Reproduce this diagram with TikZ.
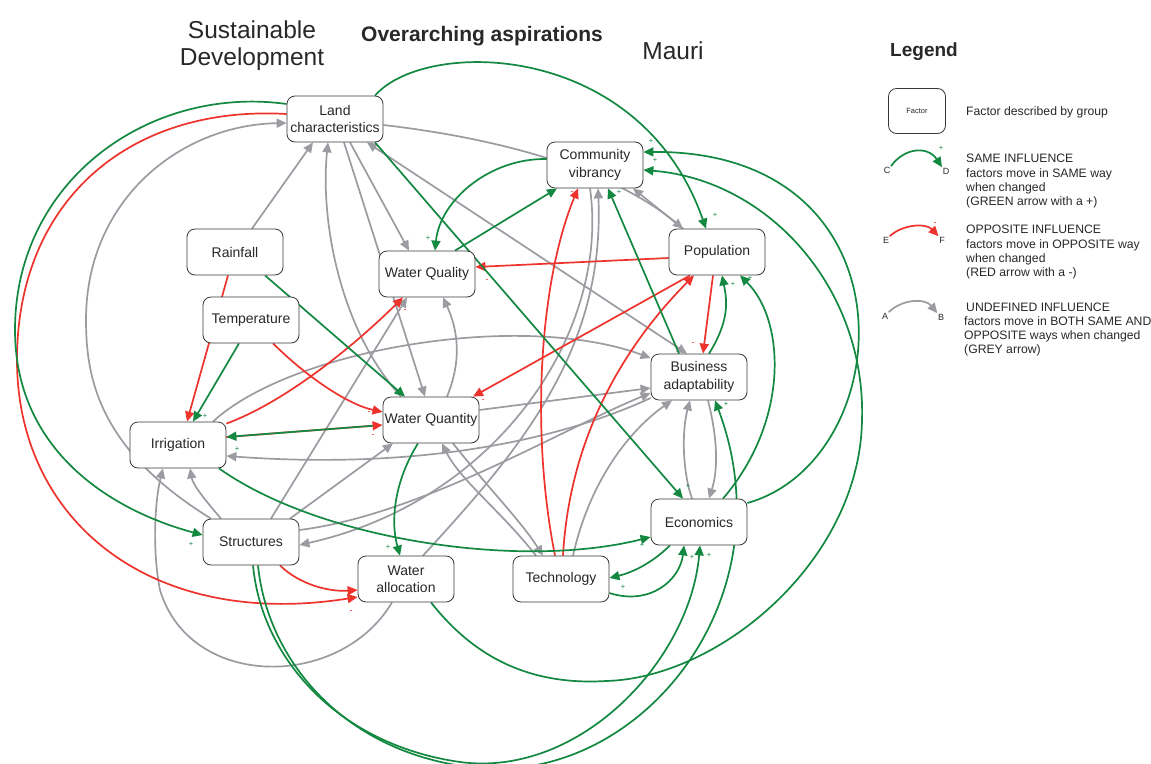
\documentclass[tikz,border=0pt]{standalone}
\usepackage{fontspec}
\setmainfont{Liberation Sans}
\usetikzlibrary{arrows.meta,calc}
\definecolor{pgreen}{RGB}{18,136,64}
\definecolor{nred}{RGB}{238,50,44}
\definecolor{ugrey}{RGB}{155,155,162}
\definecolor{ink}{RGB}{40,40,40}
\definecolor{frame}{RGB}{55,55,55}
\pgfdeclarelayer{paper}
\pgfdeclarelayer{links}
\pgfsetlayers{paper,links,main}
\tikzset{
  factor/.style={draw=frame, line width=0.8pt, rounded corners=8pt, fill=white,
    minimum width=96pt, minimum height=46pt, inner sep=1pt, align=center,
    text=ink, font=\fontsize{14}{17.5}\selectfont},
  link/.style={line width=1.7pt, -{Triangle[length=10pt,width=9pt]}},
  same/.style={link, draw=pgreen},
  opp/.style={link, draw=nred},
  undef/.style={link, draw=ugrey},
  both/.style={undef, {Triangle[length=10pt,width=9pt]}-{Triangle[length=10pt,width=9pt]}},
  plus/.style={text=pgreen, font=\fontsize{7.5}{8}\selectfont, inner sep=0pt},
  minus/.style={text=nred, font=\fontsize{9}{9}\selectfont, inner sep=0pt},
  ltext/.style={anchor=base west, inner sep=0pt, text=ink, font=\fontsize{12.2}{14}\selectfont},
  letter/.style={inner sep=0.5pt, text=ink, font=\fontsize{9}{9}\selectfont},
  title/.style={text=ink, align=center, font=\fontsize{24.5}{27}\selectfont},
}
\begin{document}
\begin{tikzpicture}[x=1pt, y=-1pt]
\begin{pgfonlayer}{paper}
  \fill[white] (0,0) rectangle (1151,763);
\end{pgfonlayer}
\useasboundingbox (0,0) rectangle (1151,763);

% headings
\node[title] (sustdev) at (252,46) {Sustainable\\Development};
\node[text=ink, font=\bfseries\fontsize{21}{23}\selectfont] (aspire) at (482,36) {Overarching aspirations};
\node[title] (mauri) at (673,51) {Mauri};

% factors
\node[factor] (land) at (335,119) {Land\\characteristics};
\node[factor] (comm) at (595,165) {Community\\vibrancy};
\node[factor] (rain) at (235,252) {Rainfall};
\node[factor] (wqual) at (427,274) {Water Quality};
\node[factor] (pop) at (717,252) {Population};
\node[factor] (temp) at (251,320) {Temperature};
\node[factor] (bus) at (699,377) {Business\\adaptability};
\node[factor] (wquan) at (431,420) {Water Quantity};
\node[factor] (irr) at (178,445) {Irrigation};
\node[factor] (econ) at (699,522) {Economics};
\node[factor] (struc) at (251,542) {Structures};
\node[factor] (alloc) at (406,579) {Water\\allocation};
\node[factor] (tech) at (561,579) {Technology};

\begin{pgfonlayer}{links}
% undefined influences
\draw[undef] ([xshift=-40pt]struc.north) .. controls (100,450) and (86,380) .. (86,320)
   .. controls (86,200) and (180,125) .. ([yshift=-4pt]land.west);
\draw[undef] ([xshift=17pt]rain.north) -- ([xshift=-22pt]land.south);
\draw[undef] ([xshift=-30pt]wquan.north) .. controls (340,330) and (320,220) .. ([xshift=-7pt]land.south);
\draw[undef] ([xshift=9pt]land.south) -- ([xshift=-6pt]wquan.north);
\draw[undef] ([xshift=15pt]land.south) -- ([xshift=-18pt]wqual.north);
\draw[both] ([xshift=32pt]land.south) -- ([xshift=-12pt]bus.north);
\draw[undef] ([yshift=-6pt]land.east) .. controls (470,135) and (600,160) .. ([xshift=-34pt]pop.north);
\draw[undef] ([xshift=-34pt]pop.north) -- ([xshift=38pt]comm.south);
\draw[undef] ([xshift=-5pt]comm.south) .. controls (610,330) and (500,500) .. ([yshift=-3pt]struc.east);
\draw[undef] ([xshift=17pt]alloc.north) .. controls (520,450) and (605,350) .. ([xshift=3pt]comm.south);
\draw[undef] ([xshift=-30pt]struc.north) .. controls (205,500) and (193,485) .. ([xshift=12pt]irr.south);
\draw[undef] ([xshift=-14pt]alloc.south) .. controls (340,690) and (190,690) .. (160,590)
   .. controls (152,550) and (155,500) .. ([xshift=-15pt]irr.south);
\draw[undef] ([xshift=20pt]struc.north) -- ([xshift=-20pt]wqual.south);
\draw[undef] ([xshift=39pt]struc.north) -- ([xshift=-38pt]wquan.south);
\draw[undef] ([yshift=12pt]struc.east) .. controls (420,515) and (560,430) .. ([yshift=-16pt]bus.west);
\draw[undef] ([yshift=10pt]wquan.east) -- ([yshift=-11pt]bus.west);
\draw[undef] ([xshift=35pt]irr.north) .. controls (290,350) and (520,310) .. ([yshift=19pt]bus.west);
\draw[undef] ([yshift=-21pt]bus.west) .. controls (560,440) and (420,470) .. ([yshift=-11pt]irr.east);
\draw[undef] ([xshift=12pt]tech.north) .. controls (590,480) and (630,430) .. ([xshift=-27pt]bus.south);
\draw[undef] ([xshift=9pt]bus.south) .. controls (718,440) and (718,470) .. ([xshift=10pt]econ.north);
\draw[undef] ([xshift=-7pt]econ.north) .. controls (682,470) and (682,430) .. ([xshift=-9pt]bus.south);
\draw[undef] ([xshift=22pt]wquan.south) .. controls (490,490) and (520,520) .. ([xshift=-18pt]tech.north);
\draw[undef] ([xshift=-25pt]tech.north) .. controls (500,510) and (460,480) .. ([xshift=11pt]wquan.south);
\draw[undef] ([xshift=16pt]wquan.north) .. controls (462,360) and (458,330) .. ([xshift=16pt]wqual.south);

% opposite influences
\draw[opp] ([yshift=5pt]land.west) .. controls (130,105) and (17,200) .. (17,360)
   .. controls (17,520) and (150,630) .. ([yshift=-18pt]alloc.west);
\draw[opp] ([xshift=29pt]struc.south) .. controls (300,585) and (330,592) .. ([yshift=-11pt]alloc.west);
\draw[opp] ([xshift=22pt]temp.south) .. controls (310,380) and (350,405) .. ([yshift=8pt]wquan.west);
\draw[opp] ([xshift=-7pt]rain.south) -- ([xshift=9pt]irr.north);
\draw[opp] ([yshift=-2pt]irr.north east) .. controls (290,400) and (360,340) .. ([xshift=-24pt]wqual.south);
\draw[opp] ([yshift=8pt]irr.east) -- ([yshift=-5pt]wquan.west);
\draw[opp] ([yshift=-6pt]pop.west) -- ([yshift=7pt]wqual.east);
\draw[opp] ([xshift=-27pt]pop.south) -- ([xshift=42pt]wquan.north);
\draw[opp] ([xshift=2pt]tech.north) .. controls (570,430) and (630,340) .. ([xshift=-23pt]pop.south);
\draw[opp] ([xshift=-6pt]tech.north) .. controls (530,430) and (540,280) .. ([xshift=-17pt]comm.south);
\draw[opp] ([xshift=-4pt]pop.south) -- ([xshift=4pt]bus.north);

% same influences
\draw[same] ([xshift=40pt]land.north) .. controls (425,38) and (640,40) .. ([xshift=-11pt]pop.north);
\draw[same] ([yshift=15pt]land.west) .. controls (150,85) and (15,180) .. (15,330)
   .. controls (15,450) and (110,510) .. ([yshift=7pt]struc.west);
\draw[same] ([xshift=40pt]land.south) -- ([xshift=-16pt]econ.north);
\draw[same] ([yshift=6pt]comm.west) .. controls (490,158) and (440,200) .. ([xshift=8pt]wqual.north);
\draw[same] ([xshift=28pt]wqual.north) -- ([xshift=-38pt]comm.south);
\draw[same] ([xshift=30pt]rain.south) -- ([xshift=-26pt]wquan.north);
\draw[same] ([xshift=-12pt]temp.south) -- ([xshift=15pt]irr.north);
\draw[same, shorten <=10pt] ([yshift=-5pt]wquan.west) -- ([yshift=8pt]irr.east);
\draw[same] ([xshift=41pt]irr.south) .. controls (320,540) and (520,570) .. ([yshift=-15pt]econ.west);
\draw[same] ([xshift=-13pt]wquan.south) .. controls (395,480) and (390,520) .. ([xshift=-6pt]alloc.north);
\draw[same] ([xshift=-29pt]econ.south) .. controls (650,565) and (630,573) .. ([yshift=1pt]tech.east);
\draw[same] ([yshift=-14pt]tech.east) .. controls (650,606) and (680,580) .. ([xshift=-15pt]econ.south);
\draw[same] ([xshift=2pt]struc.south) .. controls (262,660) and (340,745) .. (460,762)
   .. controls (580,778) and (690,660) .. ([xshift=1pt]econ.south);
\draw[same] ([xshift=7pt]struc.south) .. controls (268,665) and (350,757) .. (480,768)
   .. controls (640,782) and (790,600) .. ([xshift=16pt]bus.south);
\draw[same] ([xshift=25pt]alloc.south) .. controls (480,665) and (540,685) .. (606,681)
   .. controls (720,678) and (860,560) .. (862,420)
   .. controls (866,290) and (770,180) .. ([yshift=-5pt]comm.east);
\draw[same] ([yshift=19pt]econ.east) .. controls (900,460) and (920,150) .. ([yshift=13pt]comm.east);
\draw[same] ([xshift=10pt]bus.north) .. controls (730,320) and (727,300) .. ([xshift=5pt]pop.south);
\draw[same] ([xshift=24pt]econ.north) .. controls (790,420) and (785,320) .. ([xshift=23pt]pop.south);
\draw[same] ([xshift=-20pt]bus.north) -- ([xshift=13pt]comm.south);
\end{pgfonlayer}

% polarity marks
\node[plus] (s1) at (715,215) {+};
\node[plus] (s2) at (651,141) {+};
\node[plus] (s3) at (655,160) {+};
\node[plus] (s4) at (619,192) {+};
\node[minus] (m1) at (572,193) {-};
\node[plus] (s5) at (428,238) {+};
\node[minus] (m2) at (487,281) {-};
\node[minus] (m3) at (405,311) {-};
\node[minus] (m4) at (369,413) {-};
\node[minus] (m5) at (373,436) {-};
\node[minus] (m6) at (483,401) {-};
\node[plus] (s6) at (396,393) {+};
\node[plus] (s7) at (205,416) {+};
\node[plus] (s8) at (237,449) {+};
\node[plus] (s9) at (191,544) {+};
\node[plus] (s10) at (388,547) {+};
\node[minus] (m7) at (351,612) {-};
\node[plus] (s11) at (623,587) {+};
\node[plus] (s12) at (642,545) {+};
\node[plus] (s13) at (688,486) {+};
\node[plus] (s14) at (692,557) {+};
\node[plus] (s15) at (709,555) {+};
\node[plus] (s16) at (726,404) {+};
\node[minus] (m8) at (693,344) {-};
\node[plus] (s17) at (733,284) {+};
\node[plus] (s18) at (750,278) {+};

% legend
\node[text=ink, font=\bfseries\fontsize{19}{21}\selectfont] (legend) at (924,52) {Legend};
\node[factor, minimum width=57pt, minimum height=45pt, font=\fontsize{7.5}{8}\selectfont] (lfac) at (917,111) {Factor};
\node[ltext] (lfacd) at (966,115) {Factor described by group};

\node[letter] (lC) at (887,170) {C};
\node[letter] (lD) at (946,171) {D};
\draw[same] (lC.north east) .. controls (905,147) and (928,146) .. (lD.north west);
\node[plus] (lplus) at (941,148) {+};
\node[ltext] (ls1) at (966,162) {SAME INFLUENCE};
\node[ltext] (ls2) at (966,177) {factors move in SAME way};
\node[ltext] (ls3) at (966,191) {when changed};
\node[ltext] (ls4) at (966,205) {(GREEN arrow with a +)};

\node[letter] (lE) at (886,240) {E};
\node[letter] (lF) at (942,240) {F};
\draw[opp] (lE.north east) .. controls (903,224) and (926,223) .. (lF.north west);
\node[minus] (lminus) at (935,224) {-};
\node[ltext] (lo1) at (966,233) {OPPOSITE INFLUENCE};
\node[ltext] (lo2) at (966,248) {factors move in OPPOSITE way};
\node[ltext] (lo3) at (966,262) {when changed};
\node[ltext] (lo4) at (966,276) {(RED arrow with a -)};

\node[letter] (lA) at (885,316) {A};
\node[letter] (lB) at (941,317) {B};
\draw[undef] (lA.north east) .. controls (902,299) and (925,298) .. (lB.north west);
\node[ltext] (lu1) at (966,311) {UNDEFINED INFLUENCE};
\node[ltext] (lu2) at (964,325) {factors move in BOTH SAME AND};
\node[ltext] (lu3) at (964,339) {OPPOSITE ways when changed};
\node[ltext] (lu4) at (964,353) {(GREY arrow)};
\end{tikzpicture}
\end{document}
